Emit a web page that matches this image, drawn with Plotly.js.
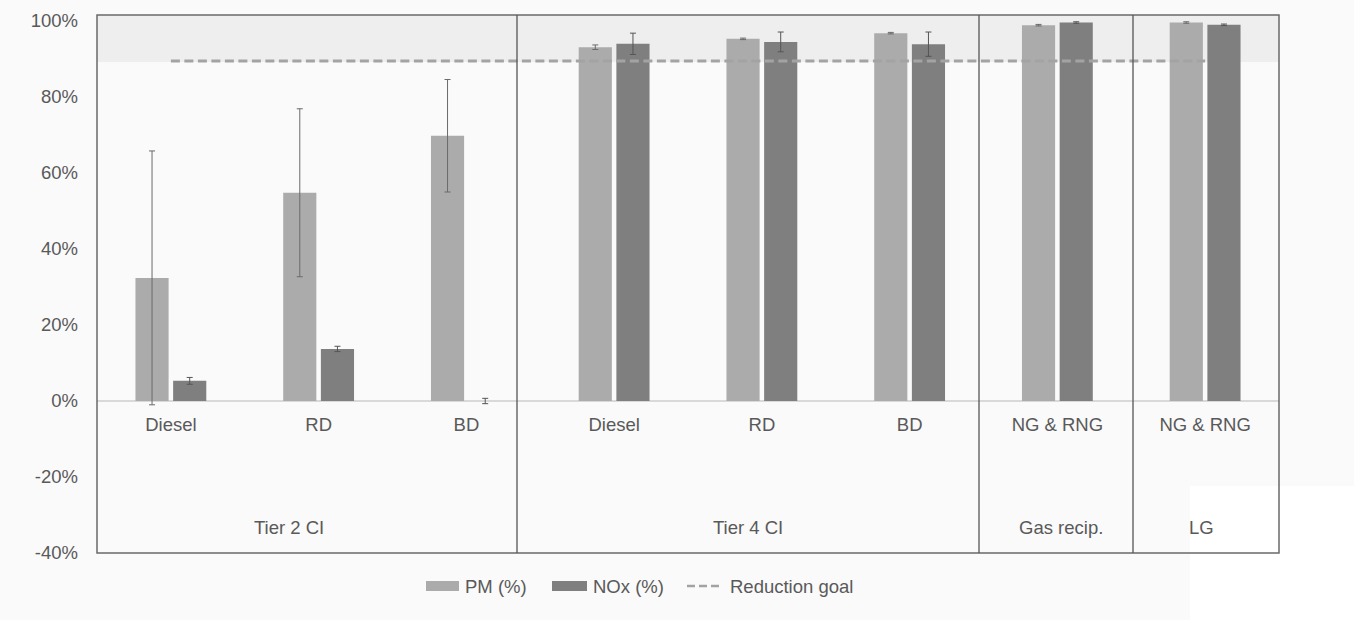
<!DOCTYPE html>
<html>
<head>
<meta charset="utf-8">
<script src="https://cdn.plot.ly/plotly-3.0.1.min.js"></script>
<style>html,body{margin:0;padding:0;background:#fafafa;}#chart{width:1354px;height:620px;}</style>
</head>
<body>
<div id="chart"></div>
<script>
// ---- data ----
const categories = ["Diesel", "RD", "BD", "Diesel", "RD", "BD", "NG & RNG", "NG & RNG"];
const groups = ["Tier 2 CI", "Tier 4 CI", "Gas recip.", "LG"];
const pmValues = [32.4, 54.8, 69.8, 93.1, 95.3, 96.8, 98.9, 99.6];
const pmErrors = [33.4, 22.1, 14.8, 0.6, 0.2, 0.2, 0.2, 0.2];
const noxValues = [5.3, 13.7, 0, 94.0, 94.5, 93.9, 99.6, 99.0];
const noxErrors = [0.9, 0.7, 0.7, 2.8, 2.6, 3.2, 0.2, 0.2];
const reductionGoal = [89.5, 89.5, 89.5, 89.5, 89.5, 89.5, 89.5, 89.5];
const yTickValues = [-40, -20, 0, 20, 40, 60, 80, 100];
const yTickLabels = ["-40%", "-20%", "0%", "20%", "40%", "60%", "80%", "100%"];
const seriesNames = ["PM (%)", "NOx (%)", "Reduction goal"];

// ---- layout helpers (pixel -> paper) ----
const ML = 97, MR = 75, MT = 15, MB = 67, W = 1354, H = 620;
const PW = W - ML - MR, PH = H - MT - MB;
const X = px => (px - ML) / PW;
const Y = py => (H - MB - py) / PH;

const xIdx = categories.map((c, i) => i);
const FONT = "Liberation Sans, Arial, sans-serif";
const FS = 18.5;
const TXT = "#595959";
const PM_COLOR = "#ababab", NOX_COLOR = "#7f7f7f", GOAL_COLOR = "#a3a3a3";

const traces = [
  {
    type: "bar", name: seriesNames[0], x: xIdx, y: pmValues,
    marker: {color: PM_COLOR},
    error_y: {type: "data", array: pmErrors, visible: true, color: "#6a6a6a", thickness: 1, width: 3},
    showlegend: false
  },
  {
    type: "bar", name: seriesNames[1], x: xIdx, y: noxValues,
    marker: {color: NOX_COLOR},
    error_y: {type: "data", array: noxErrors, visible: true, color: "#555555", thickness: 1, width: 3},
    showlegend: false
  },
  {
    type: "scatter", mode: "lines", name: seriesNames[2], x: xIdx, y: reductionGoal,
    line: {color: GOAL_COLOR, width: 3, dash: "9px,4.5px"},
    showlegend: false
  }
];

const groupLabelX = [289, 748, 1061, 1201];
const separatorsPx = [517, 979, 1133];

const shapes = [
  // white patch (screenshot artifact) lower right
  {type: "rect", xref: "paper", yref: "paper", x0: X(1190), x1: X(1354), y0: Y(620), y1: Y(486),
   fillcolor: "#ffffff", line: {width: 0}, layer: "below"},
  // target band
  {type: "rect", xref: "paper", yref: "y", x0: 0, x1: 1, y0: 89.2, y1: 101.58,
   fillcolor: "#eeeeee", line: {width: 0}, layer: "below"},
  // frame
  {type: "rect", xref: "paper", yref: "paper", x0: 0, x1: 1, y0: 0, y1: 1,
   line: {color: "#6a6a6a", width: 1.5}, fillcolor: "rgba(0,0,0,0)", layer: "above"}
];
separatorsPx.forEach(px => shapes.push({
  type: "line", xref: "paper", yref: "paper", x0: X(px), x1: X(px), y0: 0, y1: 1,
  line: {color: "#555555", width: 1.3}, layer: "above"
}));

// custom legend
const legY = 586;
shapes.push({type: "rect", xref: "paper", yref: "paper", x0: X(426), x1: X(459), y0: Y(591), y1: Y(581),
  fillcolor: PM_COLOR, line: {width: 0}});
shapes.push({type: "rect", xref: "paper", yref: "paper", x0: X(552), x1: X(587), y0: Y(591), y1: Y(581),
  fillcolor: NOX_COLOR, line: {width: 0}});
shapes.push({type: "line", xref: "paper", yref: "paper", x0: X(687), x1: X(722), y0: Y(legY), y1: Y(legY),
  line: {color: GOAL_COLOR, width: 2.5, dash: "8px,4px"}});

const annotations = groups.map((g, i) => ({
  text: g, xref: "paper", yref: "paper", x: X(groupLabelX[i]), y: Y(527),
  xanchor: "center", yanchor: "middle", showarrow: false,
  font: {family: FONT, size: FS, color: TXT}
}));
[[463, 0], [591, 1], [728, 2]].forEach(([px, k]) => annotations.push({
  text: seriesNames[k], xref: "paper", yref: "paper", x: X(px), y: Y(legY),
  xanchor: "left", yanchor: "middle", showarrow: false,
  font: {family: FONT, size: FS, color: TXT}
}));

const layout = {
  width: W, height: H,
  margin: {l: ML, r: MR, t: MT, b: MB, pad: 0},
  paper_bgcolor: "#fafafa",
  plot_bgcolor: "rgba(0,0,0,0)",
  font: {family: FONT, size: FS, color: TXT},
  barmode: "group", bargap: 0.49, bargroupgap: 0.12,
  showlegend: false,
  xaxis: {
    range: [-0.5, 7.5], tickmode: "array", tickvals: xIdx, ticktext: categories,
    anchor: "free", position: Y(401),
    showgrid: false, zeroline: false, showline: false, ticks: "",
    ticklabelstandoff: 10,
    tickfont: {family: FONT, size: FS, color: TXT}, fixedrange: true
  },
  yaxis: {
    range: [-40, 101.58], tickmode: "array", tickvals: yTickValues, ticktext: yTickLabels,
    showgrid: false, showline: false, ticks: "",
    zeroline: true, zerolinecolor: "#d9d9d9", zerolinewidth: 1.3,
    ticklabelstandoff: 18,
    tickfont: {family: FONT, size: FS, color: TXT}, fixedrange: true
  },
  shapes: shapes,
  annotations: annotations
};

Plotly.newPlot("chart", traces, layout, {displayModeBar: false, staticPlot: true});
</script>
</body>
</html>
